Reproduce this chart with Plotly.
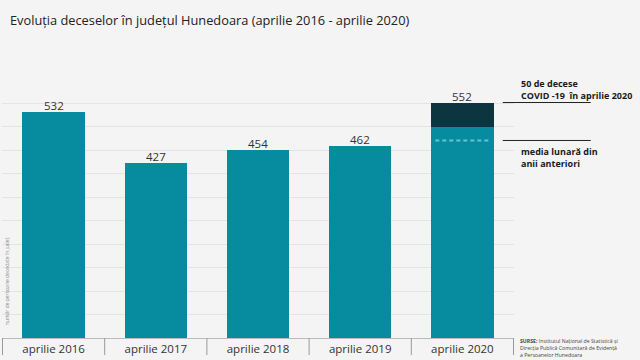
import plotly.graph_objects as go

categories = ["aprilie 2016", "aprilie 2017", "aprilie 2018", "aprilie 2019", "aprilie 2020"]
total_deaths = [532, 427, 454, 462, 552]
covid_deaths = [0, 0, 0, 0, 50]
monthly_avg_prev = 474

other_deaths = [t - c for t, c in zip(total_deaths, covid_deaths)]

TEAL = "#078c9f"
DARK = "#0d3540"
BG = "#f4f4f4"
GRID = "#e4e4e4"
FONT = "Open Sans"
BAR_W = 0.61

fig = go.Figure()
fig.add_trace(go.Bar(x=categories, y=other_deaths, marker_color=TEAL,
                     marker_line_width=0, width=BAR_W, hoverinfo="skip"))
fig.add_trace(go.Bar(x=categories, y=covid_deaths, marker_color=DARK,
                     marker_line_width=0, width=BAR_W, hoverinfo="skip"))

for cat, tot in zip(categories, total_deaths):
    fig.add_annotation(x=cat, y=tot, text=str(tot), showarrow=False,
                       yanchor="bottom", yshift=-3,
                       font=dict(family=FONT, size=11.5, color="#333333"))

# category separators below the axis
for i in range(len(categories) + 1):
    fig.add_shape(type="line", xref="x", yref="paper",
                  x0=i - 0.5, x1=i - 0.5, y0=0, y1=-0.066,
                  line=dict(color="#999999", width=1))

# dashed average line inside the 2020 bar
idx = len(categories) - 1
fig.add_shape(type="line", xref="x", yref="y",
              x0=idx - 0.265, x1=idx + 0.265, y0=monthly_avg_prev, y1=monthly_avg_prev,
              line=dict(color="#62c6d2", width=2, dash="4px,3px"))

# leader lines on the right
for yv in (total_deaths[-1], monthly_avg_prev):
    fig.add_shape(type="line", xref="paper", yref="y",
                  x0=0.978, x1=1.1498, y0=yv, y1=yv,
                  line=dict(color="#222222", width=1))

label_font = dict(family=FONT, size=9, color="#1a1a1a")
fig.add_annotation(xref="paper", yref="y", x=1.0117, y=total_deaths[-1], yshift=0,
                   xanchor="left", yanchor="bottom", align="left", showarrow=False,
                   borderpad=0,
                   text="<b>50 de decese<br>COVID -19  în aprilie 2020</b>", font=label_font)
fig.add_annotation(xref="paper", yref="y", x=1.0117, y=monthly_avg_prev, yshift=-4,
                   xanchor="left", yanchor="top", align="left", showarrow=False,
                   borderpad=0,
                   text="<b>media lunară din<br>anii anteriori</b>", font=label_font)

# source
fig.add_annotation(xref="paper", yref="paper", x=1.0098, y=0.0, yshift=2,
                   xanchor="left", yanchor="top", align="left", showarrow=False,
                   borderpad=0,
                   text="<b>SURSE:</b> Institutul Național de Statistică și<br>Direcția Publică Comunitară de Evidență<br>a Persoanelor Hunedoara",
                   font=dict(family=FONT, size=5.2, color="#444444"))

# y axis title (inside plot)
fig.add_annotation(xref="paper", yref="paper", x=0.0, y=0.22, xshift=5,
                   textangle=-90, showarrow=False, xanchor="center", yanchor="middle",
                   text="număr de persoane decedate în județ",
                   font=dict(family=FONT, size=5, color="#888888"))

fig.update_layout(
    width=640, height=360,
    barmode="stack",
    showlegend=False,
    paper_bgcolor=BG, plot_bgcolor=BG,
    margin=dict(l=2, r=126, t=80, b=22, autoexpand=False),
    title=dict(text="Evoluția deceselor în județul Hunedoara (aprilie 2016 - aprilie 2020)",
               x=0.0156, xanchor="left", y=0.944, yanchor="middle",
               font=dict(family=FONT, size=12.8, color="#222222")),
)
fig.update_xaxes(showline=True, linecolor="#bbbbbb", linewidth=1,
                 ticks="", automargin=False,
                 tickfont=dict(family=FONT, size=11.5, color="#333333"),
                 showgrid=False)
fig.update_yaxes(range=[68, 598.3], tick0=68, dtick=48.21, automargin=False,
                 showticklabels=False, showgrid=True, gridcolor=GRID,
                 gridwidth=1, zeroline=False, fixedrange=True)

fig.write_html("out.html", config={"displayModeBar": False},
               post_script="document.body.style.margin='0';document.body.style.overflow='hidden';")
